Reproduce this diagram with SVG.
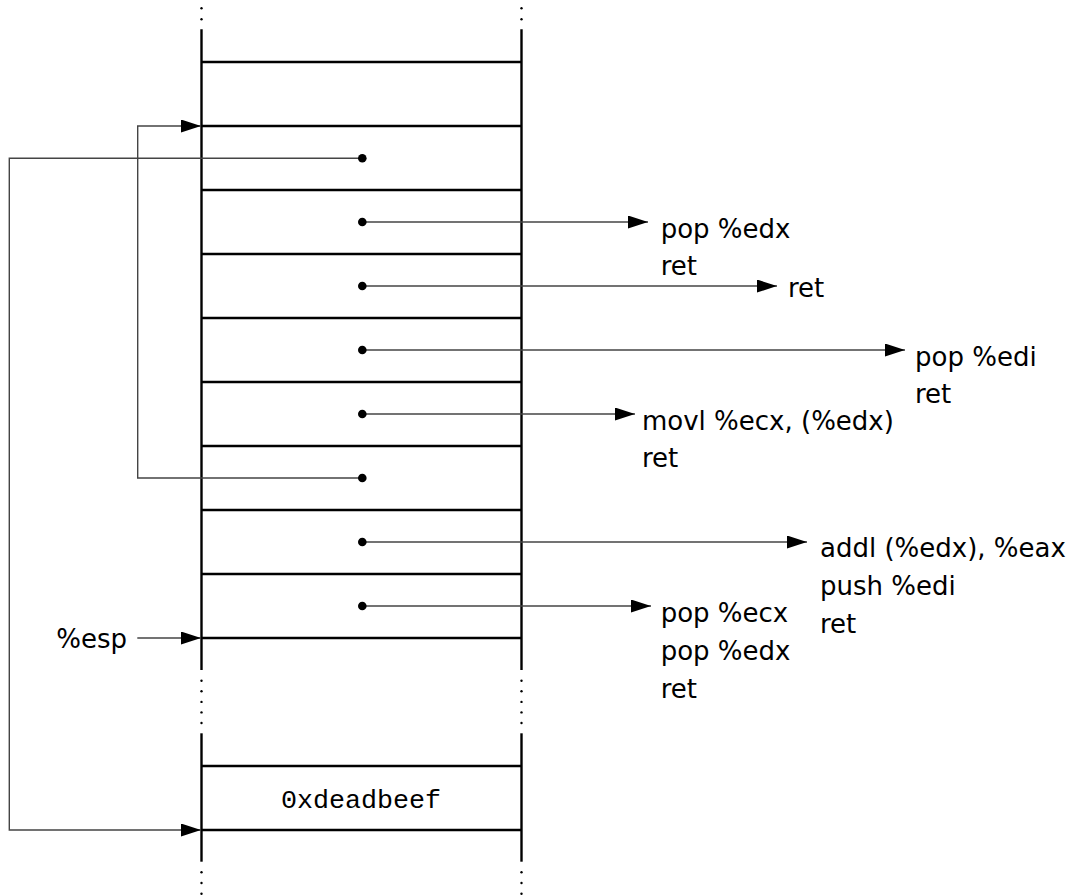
<svg xmlns="http://www.w3.org/2000/svg" width="1074" height="896" viewBox="0 0 1074 896">
<style>
.frame{stroke:#000;stroke-width:2.4;fill:none}
.sep{stroke:#000;stroke-width:2.4}
.conn{stroke:#444;stroke-width:1.4;fill:none}
.dot{fill:#000}
.vdot{fill:#000}
.lbl{font-family:"DejaVu Sans",sans-serif;font-size:26px;fill:#000}
.mono{font-family:"Liberation Mono",monospace;font-size:26.7px;fill:#000}
</style>
<defs>
<marker id="ah" markerUnits="userSpaceOnUse" markerWidth="21" markerHeight="13" refX="20" refY="6.5" orient="auto">
<path d="M0,0 L20,6.5 L0,13 z" fill="#000"/>
</marker>
</defs>
<rect width="1074" height="896" fill="#fff"/>
<g id="stack-frame">
<line class="frame" x1="201.5" y1="29.3" x2="201.5" y2="670"/>
<line class="frame" x1="521.5" y1="29.3" x2="521.5" y2="670"/>
<line class="frame" x1="201.5" y1="733.3" x2="201.5" y2="861.7"/>
<line class="frame" x1="521.5" y1="733.3" x2="521.5" y2="861.7"/>
<g class="vdot">
<circle cx="201.5" cy="8.3" r="1.2"/><circle cx="201.5" cy="19.3" r="1.2"/>
<circle cx="521.5" cy="8.3" r="1.2"/><circle cx="521.5" cy="19.3" r="1.2"/>
<circle cx="201.5" cy="680.7" r="1.2"/><circle cx="201.5" cy="691.3" r="1.2"/><circle cx="201.5" cy="701.9" r="1.2"/><circle cx="201.5" cy="712.4" r="1.2"/><circle cx="201.5" cy="723" r="1.2"/>
<circle cx="521.5" cy="680.7" r="1.2"/><circle cx="521.5" cy="691.3" r="1.2"/><circle cx="521.5" cy="701.9" r="1.2"/><circle cx="521.5" cy="712.4" r="1.2"/><circle cx="521.5" cy="723" r="1.2"/>
<circle cx="201.5" cy="872.3" r="1.2"/><circle cx="201.5" cy="883" r="1.2"/><circle cx="201.5" cy="893.7" r="1.2"/>
<circle cx="521.5" cy="872.3" r="1.2"/><circle cx="521.5" cy="883" r="1.2"/><circle cx="521.5" cy="893.7" r="1.2"/>
</g>
<line class="sep" x1="201.5" y1="62" x2="521.5" y2="62"/>
<line class="sep" x1="201.5" y1="126" x2="521.5" y2="126"/>
<line class="sep" x1="201.5" y1="190" x2="521.5" y2="190"/>
<line class="sep" x1="201.5" y1="254" x2="521.5" y2="254"/>
<line class="sep" x1="201.5" y1="318" x2="521.5" y2="318"/>
<line class="sep" x1="201.5" y1="382" x2="521.5" y2="382"/>
<line class="sep" x1="201.5" y1="446" x2="521.5" y2="446"/>
<line class="sep" x1="201.5" y1="510" x2="521.5" y2="510"/>
<line class="sep" x1="201.5" y1="574" x2="521.5" y2="574"/>
<line class="sep" x1="201.5" y1="638" x2="521.5" y2="638"/>
<line class="sep" x1="201.5" y1="766" x2="521.5" y2="766"/>
<line class="sep" x1="201.5" y1="830" x2="521.5" y2="830"/>
</g>
<g id="connectors">
<path class="conn" d="M362,158.3 H9.3 V830 H201" marker-end="url(#ah)"/>
<path class="conn" d="M362,478 H137.7 V126 H201" marker-end="url(#ah)"/>
<path class="conn" d="M362,222 H648" marker-end="url(#ah)"/>
<path class="conn" d="M362,286 H777" marker-end="url(#ah)"/>
<path class="conn" d="M362,350 H905" marker-end="url(#ah)"/>
<path class="conn" d="M362,414 H635" marker-end="url(#ah)"/>
<path class="conn" d="M362,542 H807" marker-end="url(#ah)"/>
<path class="conn" d="M362,606 H651" marker-end="url(#ah)"/>
<path class="conn" d="M137.3,638 H201" marker-end="url(#ah)"/>
</g>
<g id="cell-1"><circle class="dot" cx="362.3" cy="158.3" r="4.3"/></g>
<g id="cell-2"><circle class="dot" cx="362.3" cy="222" r="4.3"/></g>
<g id="cell-3"><circle class="dot" cx="362.3" cy="286" r="4.3"/></g>
<g id="cell-4"><circle class="dot" cx="362.3" cy="350" r="4.3"/></g>
<g id="cell-5"><circle class="dot" cx="362.3" cy="414" r="4.3"/></g>
<g id="cell-6"><circle class="dot" cx="362.3" cy="478" r="4.3"/></g>
<g id="cell-7"><circle class="dot" cx="362.3" cy="542" r="4.3"/></g>
<g id="cell-8"><circle class="dot" cx="362.3" cy="606" r="4.3"/></g>
<g id="cell-deadbeef"><text class="mono" x="361" y="808" text-anchor="middle">0xdeadbeef</text></g>
<g id="esp"><text class="lbl" x="127" y="648" text-anchor="end">%esp</text></g>
<g id="g-pop-edx"><text class="lbl" x="660.7" y="238">pop %edx<tspan x="660.7" dy="37">ret</tspan></text></g>
<g id="g-ret"><text class="lbl" x="788" y="296.7">ret</text></g>
<g id="g-pop-edi"><text class="lbl" x="915" y="366">pop %edi<tspan x="915" dy="37">ret</tspan></text></g>
<g id="g-movl"><text class="lbl" x="642" y="429.5">movl %ecx, (%edx)<tspan x="642" dy="37">ret</tspan></text></g>
<g id="g-addl"><text class="lbl" x="820" y="556.7">addl (%edx), %eax<tspan x="820" dy="38">push %edi</tspan><tspan x="820" dy="38">ret</tspan></text></g>
<g id="g-pop-ecx"><text class="lbl" x="660.7" y="621.7">pop %ecx<tspan x="660.7" dy="38">pop %edx</tspan><tspan x="660.7" dy="38">ret</tspan></text></g>
</svg>
